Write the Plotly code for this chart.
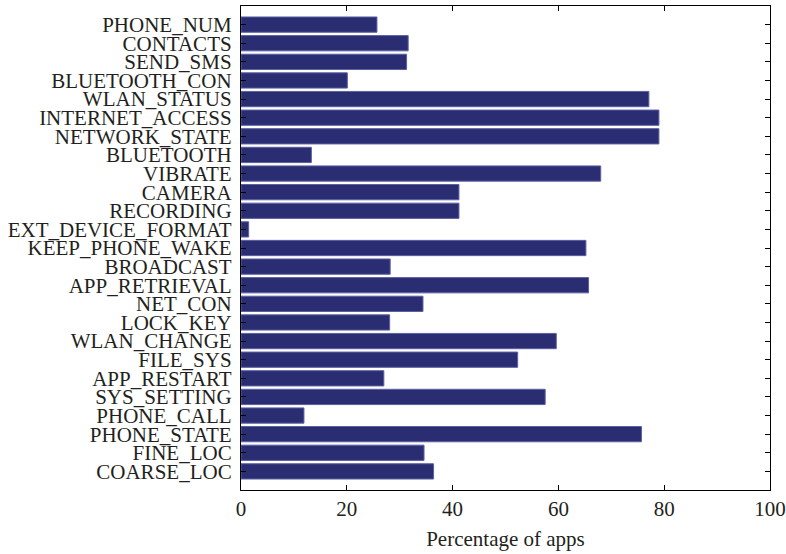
import plotly.graph_objects as go

# Permission categories, listed top to bottom
permissions = [
    "PHONE_NUM", "CONTACTS", "SEND_SMS", "BLUETOOTH_CON", "WLAN_STATUS",
    "INTERNET_ACCESS", "NETWORK_STATE", "BLUETOOTH", "VIBRATE", "CAMERA",
    "RECORDING", "EXT_DEVICE_FORMAT", "KEEP_PHONE_WAKE", "BROADCAST",
    "APP_RETRIEVAL", "NET_CON", "LOCK_KEY", "WLAN_CHANGE", "FILE_SYS",
    "APP_RESTART", "SYS_SETTING", "PHONE_CALL", "PHONE_STATE", "FINE_LOC",
    "COARSE_LOC",
]

# Share of apps requesting each permission (%)
percentages = [
    25.7, 31.6, 31.3, 20.1, 77.1,
    79.0, 79.0, 13.3, 68.0, 41.2,
    41.2, 1.45, 65.2, 28.2,
    65.7, 34.4, 28.1, 59.6, 52.3,
    27.0, 57.5, 11.9, 75.7, 34.6,
    36.4,
]

x_ticks = [0, 20, 40, 60, 80, 100]

FONT = "Liberation Serif"
TEXT = "#231f20"
SIZE = 21

fig = go.Figure(
    go.Bar(
        x=percentages,
        y=permissions,
        orientation="h",
        width=0.82,
        marker=dict(color="#2b2d73", line=dict(color="#5c60a0", width=1)),
        hoverinfo="x+y",
    )
)

fig.update_layout(
    width=786,
    height=554,
    margin=dict(l=241, r=16, t=6, b=64),
    paper_bgcolor="white",
    plot_bgcolor="white",
    showlegend=False,
    font=dict(family=FONT, size=SIZE, color=TEXT),
)

fig.update_xaxes(
    automargin=False,
    range=[0, 100],
    tickmode="array",
    tickvals=x_ticks,
    ticktext=[str(v) for v in x_ticks],
    ticklabeloverflow="allow",
    ticks="inside",
    ticklen=5,
    tickwidth=1,
    tickcolor="black",
    showline=True,
    linecolor="black",
    linewidth=1.3,
    mirror="ticks",
    showgrid=False,
    zeroline=False,
    tickfont=dict(family=FONT, size=SIZE, color=TEXT),
    title=dict(text="Percentage of apps", font=dict(family=FONT, size=SIZE, color=TEXT), standoff=10),
)

fig.update_yaxes(
    automargin=False,
    type="category",
    categoryorder="array",
    categoryarray=permissions,
    tickmode="array",
    tickvals=permissions,
    ticktext=permissions,
    range=[len(permissions), -1],
    ticks="inside",
    ticklen=5,
    tickwidth=1,
    tickcolor="black",
    showline=True,
    linecolor="black",
    linewidth=1.3,
    mirror="ticks",
    showgrid=False,
    zeroline=False,
    tickfont=dict(family=FONT, size=SIZE, color=TEXT),
    ticklabelstandoff=4,
)

fig.write_html("out.html")
